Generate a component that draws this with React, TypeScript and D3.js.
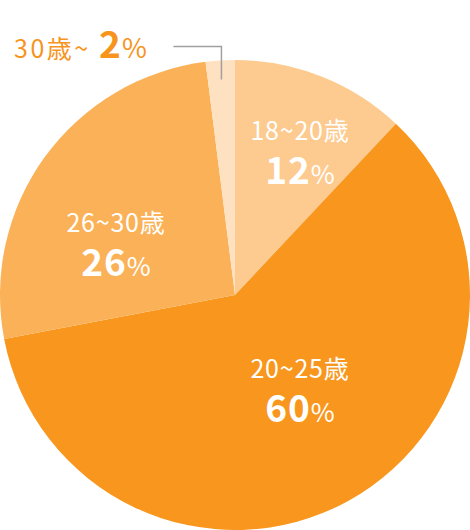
import React from "react";
import * as d3 from "d3";

const WIDTH = 470;
const HEIGHT = 530;
const CX = 235;
const CY = 295;
const RADIUS = 235;

// data
const categories = ["18~20歳", "20~25歳", "26~30歳", "30歳~"];
const shares = [12, 60, 26, 2];
const sliceColors = ["#fdca8f", "#f8961d", "#fbb157", "#fee1c0"];

// label anchors (x, baseline of category line) — inside labels only
const labelPos: ([number, number] | null)[] = [
  [300, 140],
  [300, 378],
  [116, 232],
  null,
];

const FONT = "'Noto Sans CJK JP', 'Noto Sans', sans-serif";

export default function App() {
  const pie = d3
    .pie<number>()
    .sort(null)
    .value((d) => d);
  const arcs = pie(shares);
  const arc = d3.arc<d3.PieArcDatum<number>>().innerRadius(0).outerRadius(RADIUS);

  // leader for the small slice
  const small = arcs[3];
  const mid = (small.startAngle + small.endAngle) / 2;
  const lx = Math.sin(mid) * 216;
  const ly = -Math.cos(mid) * 216;

  return (
    <svg
      width={WIDTH}
      height={HEIGHT}
      style={{ position: "absolute", left: 0, top: 0, fontFamily: FONT }}
    >
      <g transform={`translate(${CX},${CY})`}>
        {arcs.map((a, i) => (
          <path key={categories[i]} d={arc(a) ?? ""} fill={sliceColors[i]} />
        ))}
        <polyline
          points={`${lx},${ly} ${lx},${ly - 33} ${lx - 48},${ly - 33}`}
          fill="none"
          stroke="#a0a0a0"
          strokeWidth={1.5}
        />
      </g>

      {arcs.map((a, i) => {
        const p = labelPos[i];
        if (!p) return null;
        return (
          <g key={categories[i]} fill="#fff" textAnchor="middle">
            <text x={p[0]} y={p[1]} fontSize={25} letterSpacing={0.8}>
              {categories[i]}
            </text>
            <text x={p[0]} y={p[1] + 44}>
              <tspan fontSize={37} fontWeight={700} letterSpacing={1}>
                {shares[i]}
              </tspan>
              <tspan fontSize={26}>%</tspan>
            </text>
          </g>
        );
      })}

      {/* outside label for the small slice */}
      <text y={58} fill="#f7941d">
        <tspan x={14} fontSize={25} letterSpacing={2.5}>
          {categories[3]}
        </tspan>
        <tspan x={99} fontSize={37} fontWeight={700}>
          {shares[3]}
        </tspan>
        <tspan x={122} fontSize={27}>
          %
        </tspan>
      </text>
    </svg>
  );
}
